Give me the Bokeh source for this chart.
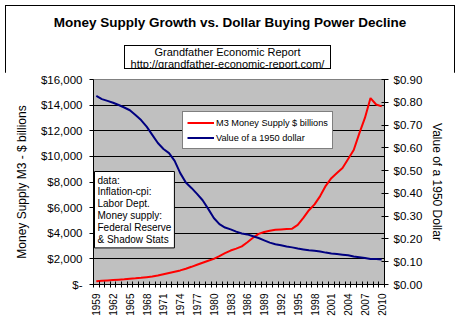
from math import pi
from bokeh.plotting import figure
from bokeh.layouts import column
from bokeh.models import (Range1d, LinearAxis, FixedTicker, Label, Legend, LegendItem,
                          ColumnDataSource, Div)
from bokeh.embed import file_html
from bokeh.resources import INLINE

# ---------------- data ----------------
years = list(range(1959, 2011))
m3_billions = [260, 290, 320, 350, 380, 410, 450, 480, 520, 570,
               620, 700, 800, 900, 1000, 1100, 1230, 1380, 1540, 1700,
               1850, 2000, 2220, 2450, 2650, 2800, 2980, 3300, 3650, 3950,
               4100, 4200, 4270, 4300, 4330, 4360, 4650, 5200, 5800, 6250,
               6900, 7700, 8300, 8700, 9100, 9800, 10500, 11800, 13000, 14550,
               14050, 13900]
dollar_value = [0.828, 0.814, 0.806, 0.798, 0.788, 0.777, 0.765, 0.744, 0.722, 0.693,
                0.657, 0.621, 0.595, 0.577, 0.543, 0.489, 0.448, 0.424, 0.398, 0.370,
                0.332, 0.292, 0.265, 0.250, 0.242, 0.232, 0.224, 0.220, 0.212, 0.204,
                0.194, 0.184, 0.177, 0.172, 0.167, 0.163, 0.158, 0.154, 0.150, 0.148,
                0.145, 0.140, 0.136, 0.134, 0.131, 0.128, 0.123, 0.120, 0.116, 0.112,
                0.112, 0.110]
left_ticks = [0, 2000, 4000, 6000, 8000, 10000, 12000, 14000, 16000]
left_tick_labels = ["$-", "$2,000", "$4,000", "$6,000", "$8,000", "$10,000",
                    "$12,000", "$14,000", "$16,000"]
right_ticks = [0.0, 0.1, 0.2, 0.3, 0.4, 0.5, 0.6, 0.7, 0.8, 0.9]
right_tick_labels = ["$0.00", "$0.10", "$0.20", "$0.30", "$0.40", "$0.50",
                     "$0.60", "$0.70", "$0.80", "$0.90"]
x_label_years = list(range(1959, 2011, 3))

title_text = "Money Supply Growth vs. Dollar Buying Power Decline"
subtitle_lines = ["Grandfather Economic Report", "http://grandfather-economic-report.com/"]
note_text = "data:\nInflation-cpi:\nLabor Dept.\nMoney supply:\nFederal Reserve\n& Shadow Stats"
series_names = ["M3 Money Supply $ billions", "Value of a 1950 dollar"]

# ---------------- layout ----------------
W, H = 460, 327
HDR = 72                      # height of the header block (title + source box)
FL, FR, FT, FB = 93, 384, 79, 284   # plot-area edges in page pixels
X0, X1 = years[0] - 0.5, years[-1] + 0.5
Y0, Y1 = 0, 16000
FONT = "Liberation Sans"


def px_x(px):
    return X0 + (px - FL) * (X1 - X0) / (FR - FL)


def px_y(py):
    return Y1 - (py - FT) * (Y1 - Y0) / (FB - FT)


header_html = (
    f'<div style="position:relative;width:{W}px;height:{HDR}px;'
    f"font-family:'{FONT}',Arial,sans-serif;color:black;\">"
    f'<div style="position:absolute;left:0;top:14px;width:{W}px;text-align:center;'
    f'font-weight:bold;font-size:13.5px;line-height:18px;white-space:nowrap;">{title_text}</div>'
    f'<div style="position:absolute;left:124px;top:45px;width:207px;height:24px;'
    f'border:1px solid black;background:white;text-align:center;font-size:11px;'
    f'line-height:12px;white-space:nowrap;overflow:hidden;">'
    f'{subtitle_lines[0]}<br>{subtitle_lines[1]}</div>'
    f'</div>'
)
header = Div(text=header_html, width=W, height=HDR, margin=0)

p = figure(width=W, height=H - HDR, x_range=Range1d(X0, X1), y_range=Range1d(Y0, Y1),
           output_backend="svg", toolbar_location=None, title=None, margin=0,
           min_border_left=FL, min_border_right=W - FR,
           min_border_top=FT - HDR, min_border_bottom=H - FB)
p.background_fill_color = "#C0C0C0"
p.border_fill_color = "white"
p.outline_line_color = "#808080"
p.extra_y_ranges = {"val": Range1d(0, 0.9)}

src = ColumnDataSource(dict(year=years, m3=m3_billions, val=dollar_value))
r_m3 = p.line("year", "m3", source=src, line_color="#FF0000", line_width=2)
r_val = p.line("year", "val", source=src, y_range_name="val", line_color="#000080",
               line_width=2)

# grid
p.xgrid.visible = False
p.ygrid.ticker = FixedTicker(ticks=left_ticks)
p.ygrid.grid_line_color = "black"
p.ygrid.grid_line_width = 1

# x axis
xa = p.xaxis[0]
xa.ticker = FixedTicker(ticks=x_label_years,
                        minor_ticks=[y - 0.5 for y in years] + [years[-1] + 0.5])
xa.major_label_orientation = pi / 2
xa.major_tick_in = 0
xa.major_tick_out = 0
xa.minor_tick_in = 3
xa.minor_tick_out = 3
xa.minor_tick_line_color = "black"
xa.axis_line_color = "black"
xa.major_label_standoff = 6
xa.major_label_text_font = FONT
xa.major_label_text_font_size = "10px"
xa.major_label_text_color = "black"

# left axis
ya = p.yaxis[0]
ya.ticker = FixedTicker(ticks=left_ticks, minor_ticks=[])
ya.major_label_overrides = {t: s for t, s in zip(left_ticks, left_tick_labels)}
ya.major_tick_in = 0
ya.major_tick_out = 4
ya.major_tick_line_color = "black"
ya.axis_line_color = "black"
ya.major_label_standoff = 7
ya.major_label_text_font = FONT
ya.major_label_text_font_size = "11.5px"
ya.major_label_text_color = "black"
ya.axis_label = "Money Supply M3 - $ billions"
ya.axis_label_text_font = FONT
ya.axis_label_text_font_size = "12px"
ya.axis_label_text_font_style = "normal"
ya.axis_label_text_color = "black"
ya.axis_label_standoff = 9

# right axis
ra = LinearAxis(y_range_name="val",
                ticker=FixedTicker(ticks=right_ticks, minor_ticks=[]))
ra.major_label_overrides = {t: s for t, s in zip(right_ticks, right_tick_labels)}
ra.major_tick_in = 3
ra.major_tick_out = 4
ra.major_tick_line_color = "black"
ra.axis_line_color = "black"
ra.major_label_standoff = 5
ra.major_label_text_font = FONT
ra.major_label_text_font_size = "11.5px"
ra.major_label_text_color = "black"
ra.axis_label = "Value of a 1950 Dollar"
ra.axis_label_text_font = FONT
ra.axis_label_text_font_size = "12px"
ra.axis_label_text_font_style = "normal"
ra.axis_label_text_color = "black"
ra.axis_label_standoff = 5
p.add_layout(ra, "right")

# data note box
p.add_layout(Label(x=px_x(94), y=px_y(171), text=note_text, text_align="left",
                   text_baseline="top", text_font=FONT, text_font_size="10px",
                   text_color="black", text_line_height=1.08,
                   border_line_color="black", border_line_width=1,
                   background_fill_color="white", background_fill_alpha=1.0, padding=3))

# legend
legend = Legend(items=[LegendItem(label=series_names[0], renderers=[r_m3]),
                       LegendItem(label=series_names[1], renderers=[r_val])],
                location=(182 - FL, FB - 149))
legend.border_line_color = "black"
legend.border_line_width = 1
legend.background_fill_color = "white"
legend.background_fill_alpha = 1.0
legend.padding = 4
legend.spacing = 2
legend.margin = 0
legend.glyph_width = 27
legend.glyph_height = 13
legend.label_height = 13
legend.label_standoff = 2
legend.label_text_font = FONT
legend.label_text_font_size = "9.2px"
legend.label_text_color = "black"
p.add_layout(legend)

page = column(header, p, spacing=0, margin=0, width=W, height=H)
page.styles = {"outline": "1px solid black", "outline-offset": "-6px"}

open("out.html", "w").write(file_html(page, INLINE))
